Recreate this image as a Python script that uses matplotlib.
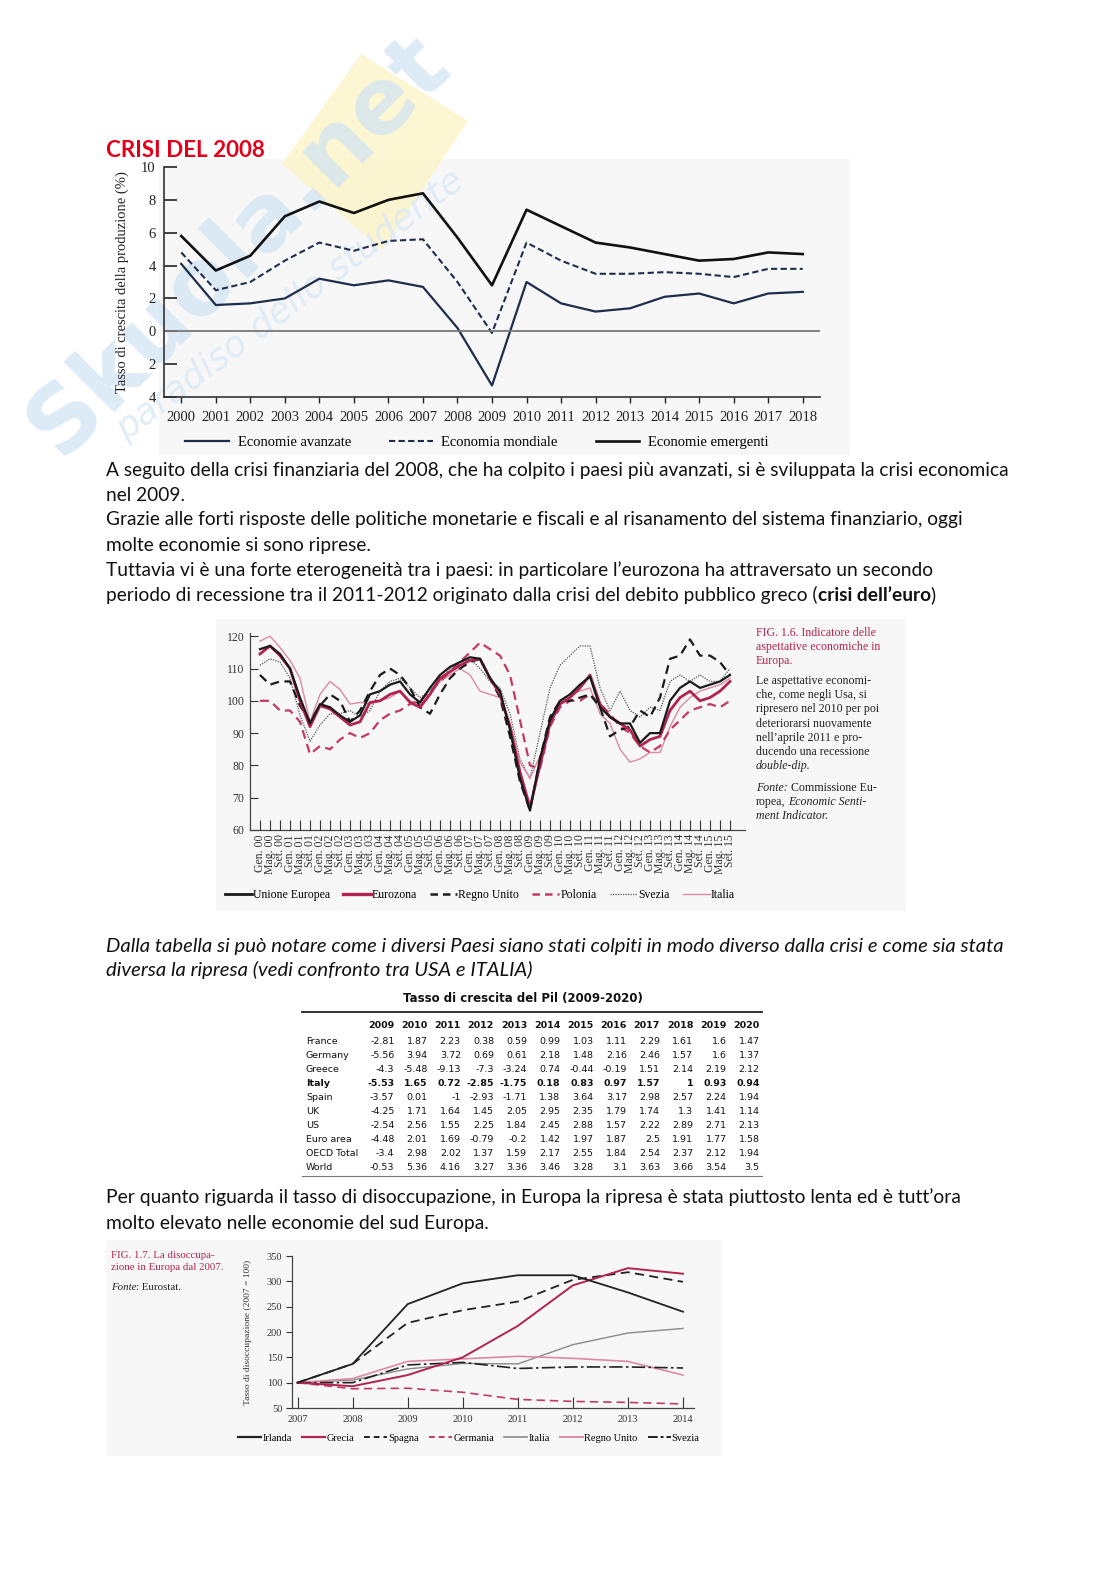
import matplotlib
matplotlib.use("Agg")
import matplotlib.pyplot as plt
from matplotlib.lines import Line2D
from matplotlib.patches import Rectangle, Polygon
from matplotlib.ticker import FuncFormatter

W, H = 1116, 1578

# ---- chart 1: tasso di crescita della produzione ----
anni_crescita = list(range(2000, 2019))
economie_avanzate = [4.1, 1.6, 1.7, 2.0, 3.2, 2.8, 3.1, 2.7, 0.2, -3.3, 3.0, 1.7, 1.2, 1.4, 2.1, 2.3, 1.7, 2.3, 2.4]
economia_mondiale = [4.8, 2.5, 3.0, 4.3, 5.4, 4.9, 5.5, 5.6, 3.0, -0.1, 5.4, 4.3, 3.5, 3.5, 3.6, 3.5, 3.3, 3.8, 3.8]
economie_emergenti = [5.8, 3.7, 4.6, 7.0, 7.9, 7.2, 8.0, 8.4, 5.7, 2.8, 7.4, 6.4, 5.4, 5.1, 4.7, 4.3, 4.4, 4.8, 4.7]

# ---- chart 2: economic sentiment indicator (Gen/Mag/Set 2000-2015) ----
esi_mesi = ["Gen.", "Mag.", "Set."]
esi_anni = ["00", "01", "02", "03", "04", "05", "06", "07", "08", "09", "10", "11", "12", "13", "14", "15"]
esi_labels = [f"{m} {a}" for a in esi_anni for m in esi_mesi]
unione_europea = [116, 117, 114.5, 110, 101, 93, 99, 98, 95.5, 93.5, 95.5, 102,
                  103, 105, 106, 102, 99.5, 104, 108, 110.5, 112, 113.5, 113, 107,
                  103, 91, 76, 66, 82, 94, 100, 102, 105, 107.5, 98, 95,
                  93, 93, 87, 90, 90, 100, 104, 106, 104, 105, 106, 108]
eurozona = [114.5, 117, 114, 110, 100, 92, 98.5, 97.5, 95, 92.5, 93.5, 99.5,
            100, 102, 103, 99.5, 98, 102, 107, 109, 111, 112.5, 113, 107,
            102, 92, 78, 67, 80, 93, 99, 101, 104, 108, 99, 95,
            93, 91, 86, 88, 89, 97, 101, 103, 100, 101, 103, 106]
regno_unito = [108, 105, 106, 106, 98.5, 93.5, 98.5, 102, 100, 93.5, 97, 103,
               108, 110, 108, 104, 98, 96, 102, 107, 110, 112, 113, 107,
               101, 89, 75, 66, 82, 95, 100, 100, 101, 102, 98, 89,
               91, 92, 97, 95, 101, 113, 114, 119, 114, 114, 112, 108]
polonia = [100, 100, 97, 97, 93.5, 83.5, 86, 85, 88, 90, 88.5, 90,
           94, 96, 97, 99, 100, 103, 106, 109, 112, 115, 118, 116,
           114, 108, 94, 80, 79, 92, 98, 100, 100, 102, 99, 96,
           92, 90, 86, 84, 86, 91, 94, 97, 98, 99, 98, 100]
svezia = [111, 113, 112, 107, 95.5, 87.5, 92.5, 96, 96, 97, 95, 97,
          103, 106, 107, 104, 101, 103, 106, 110, 112, 113, 110, 106,
          104, 96, 82, 76, 90, 104, 111, 114, 117, 117, 104, 97,
          103, 97, 95, 98, 97, 106, 108, 106, 108, 106, 106, 110]
italia = [118.5, 120, 116.5, 112.5, 107, 93.5, 102, 106, 103.5, 99, 99.5, 99,
          100, 101, 103, 100, 99, 102, 106, 108, 110, 108, 103, 102,
          101, 93, 81, 76, 83, 93, 100, 102, 103, 104, 96, 93,
          85, 81, 82, 84, 84, 92, 98, 101, 103, 104, 105, 107]

# ---- table: tasso di crescita del Pil ----
pil_anni = ["2009", "2010", "2011", "2012", "2013", "2014", "2015", "2016", "2017", "2018", "2019", "2020"]
pil_paesi = ["France", "Germany", "Greece", "Italy", "Spain", "UK", "US", "Euro area", "OECD Total", "World"]
pil_valori = [
    ["-2.81", "1.87", "2.23", "0.38", "0.59", "0.99", "1.03", "1.11", "2.29", "1.61", "1.6", "1.47"],
    ["-5.56", "3.94", "3.72", "0.69", "0.61", "2.18", "1.48", "2.16", "2.46", "1.57", "1.6", "1.37"],
    ["-4.3", "-5.48", "-9.13", "-7.3", "-3.24", "0.74", "-0.44", "-0.19", "1.51", "2.14", "2.19", "2.12"],
    ["-5.53", "1.65", "0.72", "-2.85", "-1.75", "0.18", "0.83", "0.97", "1.57", "1", "0.93", "0.94"],
    ["-3.57", "0.01", "-1", "-2.93", "-1.71", "1.38", "3.64", "3.17", "2.98", "2.57", "2.24", "1.94"],
    ["-4.25", "1.71", "1.64", "1.45", "2.05", "2.95", "2.35", "1.79", "1.74", "1.3", "1.41", "1.14"],
    ["-2.54", "2.56", "1.55", "2.25", "1.84", "2.45", "2.88", "1.57", "2.22", "2.89", "2.71", "2.13"],
    ["-4.48", "2.01", "1.69", "-0.79", "-0.2", "1.42", "1.97", "1.87", "2.5", "1.91", "1.77", "1.58"],
    ["-3.4", "2.98", "2.02", "1.37", "1.59", "2.17", "2.55", "1.84", "2.54", "2.37", "2.12", "1.94"],
    ["-0.53", "5.36", "4.16", "3.27", "3.36", "3.46", "3.28", "3.1", "3.63", "3.66", "3.54", "3.5"],
]

# ---- chart 3: disoccupazione (2007 = 100) ----
anni_disocc = [2007, 2008, 2009, 2010, 2011, 2012, 2013, 2014]
irlanda = [100, 137, 255, 296, 312, 312, 278, 240]
grecia = [100, 93, 115, 150, 212, 292, 326, 315]
spagna = [100, 137, 218, 243, 260, 303, 318, 299]
germania = [100, 88, 89, 81, 67, 63, 61, 58]
italia_dis = [100, 105, 127, 138, 137, 175, 198, 207]
regno_unito_dis = [100, 108, 142, 147, 152, 148, 142, 115]
svezia_dis = [100, 100, 135, 140, 128, 131, 131, 129]

SERIF = "Liberation Serif"
SANS = "Lato"
CRIMSON = "#b0244e"
PINK = "#dc8aa2"


def box(x0, y0, x1, y1):
    return [x0 / W, 1 - y1 / H, (x1 - x0) / W, (y1 - y0) / H]


fig = plt.figure(figsize=(W / 100, H / 100), dpi=100)
fig.patch.set_facecolor("white")
renderer = fig.canvas.get_renderer()

# background layer: scan tints and watermark
bg = fig.add_axes([0, 0, 1, 1], zorder=-10)
bg.set_xlim(0, W)
bg.set_ylim(H, 0)
bg.axis("off")
for x0, y0, x1, y1 in [(159, 159, 850, 455), (216, 619, 906, 911), (106, 1240, 722, 1456)]:
    bg.add_patch(Rectangle((x0, y0), x1 - x0, y1 - y0, facecolor="#f7f7f7", edgecolor="none"))
bg.add_patch(Polygon([(282, 164), (361, 54), (468, 121), (382, 250)], closed=True,
                     facecolor="#fdf3c4", edgecolor="none", alpha=0.75))
bg.text(238, 245, "Skuola.net", rotation=45, fontsize=66, fontweight="bold", color="#cfe3f4",
        ha="center", va="center", family="DejaVu Sans", alpha=0.7)
bg.text(290, 305, "paradiso dello studente", rotation=37, fontsize=26, style="italic",
        color="#d8e8f5", ha="center", va="center", family="DejaVu Sans", alpha=0.75)

# foreground text layer
page = fig.add_axes([0, 0, 1, 1], zorder=5)
page.set_xlim(0, W)
page.set_ylim(H, 0)
page.axis("off")


def width(t):
    return t.get_window_extent(renderer=renderer).width


def fit_text(x, y, s, target, **kw):
    t = page.text(x, y, s, va="center", ha="left", fontsize=12, **kw)
    fs = 12 * target / width(t)
    t.set_fontsize(fs)
    return fs


def put_runs(x, y, parts, size, family):
    probe = page.text(0, 0, "a a", fontsize=size, family=family)
    probe2 = page.text(0, 0, "aa", fontsize=size, family=family)
    sp = width(probe) - width(probe2)
    probe.remove()
    probe2.remove()
    for s, style, gap in parts:
        t = page.text(x, y, s, va="center", ha="left", fontsize=size, family=family, **style)
        x += width(t) + gap * sp


# title
fit_text(106, 150, "CRISI DEL 2008", 159, family=SANS, fontweight="bold", color="#e3001b")

# ---------------- chart 1 ----------------
ax1 = fig.add_axes(box(164, 167, 820, 397))
ax1.set_facecolor("none")
navy = "#1f2d4d"
ax1.plot(anni_crescita, economie_avanzate, color=navy, lw=1.6)
ax1.plot(anni_crescita, economia_mondiale, color=navy, lw=1.5, ls=(0, (3, 1.6)))
ax1.plot(anni_crescita, economie_emergenti, color="#111111", lw=1.9)
ax1.axhline(0, color="#777777", lw=1.3)
ax1.set_xlim(1999.5, 2018.5)
ax1.set_ylim(-4, 10)
ax1.set_xticks(anni_crescita)
ax1.set_yticks(range(-4, 11, 2))
ax1.yaxis.set_major_formatter(FuncFormatter(lambda v, p: f"{abs(int(v))}"))
for s in ["top", "right"]:
    ax1.spines[s].set_visible(False)
for s in ["left", "bottom"]:
    ax1.spines[s].set_color("#333333")
    ax1.spines[s].set_linewidth(1.2)
ax1.tick_params(axis="y", direction="in", length=9, width=1.2, labelsize=10.5, pad=6, colors="#222222")
ax1.tick_params(axis="x", direction="out", length=4, width=1.0, labelsize=10.5, pad=6, colors="#222222")
for lab in ax1.get_xticklabels() + ax1.get_yticklabels():
    lab.set_family(SERIF)
ax1.set_ylabel("Tasso di crescita della produzione (%)", family=SERIF, fontsize=10.5, color="#222222")
ax1.yaxis.set_label_coords(-0.053, 0.5)
h1 = [Line2D([], [], color=navy, lw=1.6),
      Line2D([], [], color=navy, lw=1.5, ls=(0, (3, 1.6))),
      Line2D([], [], color="#111111", lw=1.9)]
fig.legend(h1, ["Economie avanzate", "Economia mondiale", "Economie emergenti"],
           loc="center", bbox_to_anchor=(477 / W, 1 - 442 / H), ncol=3, frameon=False,
           prop={"family": SERIF, "size": 10.5}, handlelength=3.0, columnspacing=2.6, handletextpad=0.6)

# paragraph 1
fs_par = fit_text(106, 470, "A seguito della crisi finanziaria del 2008, che ha colpito i paesi più avanzati, "
                  "si è sviluppata la crisi economica", 901, family=SANS, color="#111111")
par1 = ["nel 2009.",
        "Grazie alle forti risposte delle politiche monetarie e fiscali e al risanamento del sistema finanziario, oggi",
        "molte economie si sono riprese.",
        "Tuttavia vi è una forte eterogeneità tra i paesi: in particolare l’eurozona ha attraversato un secondo"]
for k, line in enumerate(par1):
    page.text(106, 495 + 25 * k, line, va="center", ha="left", fontsize=fs_par, family=SANS, color="#111111")
put_runs(106, 595, [("periodo di recessione tra il 2011-2012 originato dalla crisi del debito pubblico greco (", {"color": "#111111"}, 0),
                    ("crisi dell’euro", {"fontweight": "bold", "color": "#111111"}, 0),
                    (")", {"color": "#111111"}, 0)], fs_par, SANS)

# ---------------- chart 2 ----------------
ax2 = fig.add_axes(box(250, 633, 745, 830))
ax2.set_facecolor("none")
xi = list(range(len(esi_labels)))
ax2.plot(xi, svezia, color="#555555", lw=0.9, ls=(0, (1, 1)))
ax2.plot(xi, italia, color=PINK, lw=1.0)
ax2.plot(xi, polonia, color="#c23a62", lw=1.6, ls=(0, (4, 2.5)))
ax2.plot(xi, regno_unito, color="#1a1a1a", lw=1.6, ls=(0, (4, 2.5)))
ax2.plot(xi, eurozona, color=CRIMSON, lw=2.0)
ax2.plot(xi, unione_europea, color="#1a1a1a", lw=1.6)
ax2.set_xlim(-1, 48.5)
ax2.set_ylim(60, 121)
ax2.set_xticks(xi)
ax2.set_xticklabels(esi_labels, rotation=90, family=SERIF, fontsize=8.5, color="#333333")
ax2.set_yticks(range(60, 121, 10))
for lab in ax2.get_yticklabels():
    lab.set_family(SERIF)
ax2.tick_params(axis="x", direction="in", length=7, width=0.8, pad=3, colors="#333333")
ax2.tick_params(axis="y", direction="in", length=6, width=0.8, labelsize=8.5, pad=4, colors="#333333")
for s in ["top", "right"]:
    ax2.spines[s].set_visible(False)
for s in ["left", "bottom"]:
    ax2.spines[s].set_color("#444444")
    ax2.spines[s].set_linewidth(0.9)
h2 = [Line2D([], [], color="#1a1a1a", lw=2.0),
      Line2D([], [], color=CRIMSON, lw=2.4),
      Line2D([], [], color="#1a1a1a", lw=1.8, ls=(0, (3, 2))),
      Line2D([], [], color="#c23a62", lw=1.8, ls=(0, (3, 2))),
      Line2D([], [], color="#555555", lw=0.9, ls=(0, (1, 1))),
      Line2D([], [], color=PINK, lw=1.0)]
fig.legend(h2, ["Unione Europea", "Eurozona", "Regno Unito", "Polonia", "Svezia", "Italia"],
           loc="center", bbox_to_anchor=(480 / W, 1 - 895 / H), ncol=6, frameon=False,
           prop={"family": SERIF, "size": 8.5}, handlelength=2.3, columnspacing=1.1, handletextpad=0.1)

cap_size = 8.6
cap2 = [("FIG. 1.6. Indicatore delle", CRIMSON, 633), ("aspettative economiche in", CRIMSON, 647),
        ("Europa.", CRIMSON, 661), ("Le aspettative economi-", "#222222", 681),
        ("che, come negli Usa, si", "#222222", 695), ("ripresero nel 2010 per poi", "#222222", 709),
        ("deteriorarsi nuovamente", "#222222", 724), ("nell’aprile 2011 e pro-", "#222222", 738),
        ("ducendo una recessione", "#222222", 752)]
for s, c, y in cap2:
    page.text(756, y, s, va="center", ha="left", fontsize=cap_size, family=SERIF, color=c)
page.text(756, 766, "double-dip.", va="center", ha="left", fontsize=cap_size, family=SERIF,
          style="italic", color="#222222")
it = {"style": "italic", "color": "#222222"}
rm = {"color": "#222222"}
put_runs(756, 788, [("Fonte:", it, 1), ("Commissione Eu-", rm, 0)], cap_size, SERIF)
put_runs(756, 802, [("ropea,", rm, 1), ("Economic Senti-", it, 0)], cap_size, SERIF)
put_runs(756, 816, [("ment Indicator.", it, 0)], cap_size, SERIF)

# italic paragraph
fs_it = fit_text(106, 946, "Dalla tabella si può notare come i diversi Paesi siano stati colpiti in modo diverso "
                 "dalla crisi e come sia stata", 893, family=SANS, style="italic", color="#111111")
page.text(106, 970, "diversa la ripresa (vedi confronto tra USA e ITALIA)", va="center", ha="left",
          fontsize=fs_it, family=SANS, style="italic", color="#111111")

# ---------------- table ----------------
TF = "DejaVu Sans"
page.text(523, 998, "Tasso di crescita del Pil (2009-2020)", ha="center", va="center",
          fontsize=8.5, fontweight="bold", family=TF, color="#111111")
page.plot([302, 762], [1012, 1012], color="#333333", lw=1.4)
page.plot([302, 762], [1176, 1176], color="#777777", lw=0.8)
col_x = [394.5 + 33.2 * k for k in range(len(pil_anni))]
for x, a in zip(col_x, pil_anni):
    page.text(x, 1026, a, ha="right", va="center", fontsize=6.8, fontweight="bold", family=TF, color="#111111")
for r, (paese, vals) in enumerate(zip(pil_paesi, pil_valori)):
    y = 1042 + 14.0 * r
    wgt = "bold" if paese == "Italy" else "normal"
    page.text(306, y, paese, ha="left", va="center", fontsize=6.8, fontweight=wgt, family=TF, color="#111111")
    for x, v in zip(col_x, vals):
        page.text(x, y, v, ha="right", va="center", fontsize=6.8, fontweight=wgt, family=TF, color="#111111")

# paragraph 3
fs3 = fit_text(106, 1197, "Per quanto riguarda il tasso di disoccupazione, in Europa la ripresa è stata "
               "piuttosto lenta ed è tutt’ora", 855, family=SANS, color="#111111")
page.text(106, 1223, "molto elevato nelle economie del sud Europa.", va="center", ha="left",
          fontsize=fs3, family=SANS, color="#111111")

# ---------------- chart 3 ----------------
ax3 = fig.add_axes(box(292, 1256, 694, 1408))
ax3.set_facecolor("none")
ax3.plot(anni_disocc, italia_dis, color="#8a8a8a", lw=1.0)
ax3.plot(anni_disocc, regno_unito_dis, color=PINK, lw=1.2)
ax3.plot(anni_disocc, germania, color="#c23a62", lw=1.2, ls=(0, (5, 3)))
ax3.plot(anni_disocc, svezia_dis, color="#222222", lw=1.2, ls=(0, (8, 2, 1.5, 2)))
ax3.plot(anni_disocc, spagna, color="#222222", lw=1.3, ls=(0, (5, 3)))
ax3.plot(anni_disocc, grecia, color=CRIMSON, lw=1.4)
ax3.plot(anni_disocc, irlanda, color="#222222", lw=1.3)
ax3.set_xlim(2006.9, 2014.2)
ax3.set_ylim(50, 350)
ax3.set_xticks(anni_disocc)
ax3.set_yticks(range(50, 351, 50))
for lab in ax3.get_xticklabels() + ax3.get_yticklabels():
    lab.set_family(SERIF)
ax3.tick_params(axis="x", direction="in", length=8, width=0.8, labelsize=7.5, pad=5, colors="#333333")
ax3.tick_params(axis="y", direction="out", length=4, width=0.8, labelsize=7.5, pad=3, colors="#333333")
for s in ["top", "right"]:
    ax3.spines[s].set_visible(False)
for s in ["left", "bottom"]:
    ax3.spines[s].set_color("#444444")
    ax3.spines[s].set_linewidth(0.9)
ax3.set_ylabel("Tasso di disoccupazione (2007 = 100)", family=SERIF, fontsize=6.8, color="#333333")
ax3.yaxis.set_label_coords(-0.0995, 0.5)
h3 = [Line2D([], [], color="#222222", lw=1.6),
      Line2D([], [], color=CRIMSON, lw=1.6),
      Line2D([], [], color="#222222", lw=1.4, ls=(0, (3, 2))),
      Line2D([], [], color="#c23a62", lw=1.4, ls=(0, (3, 2))),
      Line2D([], [], color="#8a8a8a", lw=1.2),
      Line2D([], [], color=PINK, lw=1.4),
      Line2D([], [], color="#222222", lw=1.4, ls=(0, (5, 1.5, 1.5, 1.5)))]
fig.legend(h3, ["Irlanda", "Grecia", "Spagna", "Germania", "Italia", "Regno Unito", "Svezia"],
           loc="center", bbox_to_anchor=(469 / W, 1 - 1438 / H), ncol=7, frameon=False,
           prop={"family": SERIF, "size": 7.5}, handlelength=2.2, columnspacing=1.0, handletextpad=0.1)

page.text(111, 1255, "FIG. 1.7. La disoccupa-", va="center", ha="left", fontsize=7.8, family=SERIF, color=CRIMSON)
page.text(111, 1268, "zione in Europa dal 2007.", va="center", ha="left", fontsize=7.8, family=SERIF, color=CRIMSON)
put_runs(111, 1287, [("Fonte", it, 0), (": Eurostat.", rm, 0)], 7.8, SERIF)

fig.savefig("out.png", dpi=100)
